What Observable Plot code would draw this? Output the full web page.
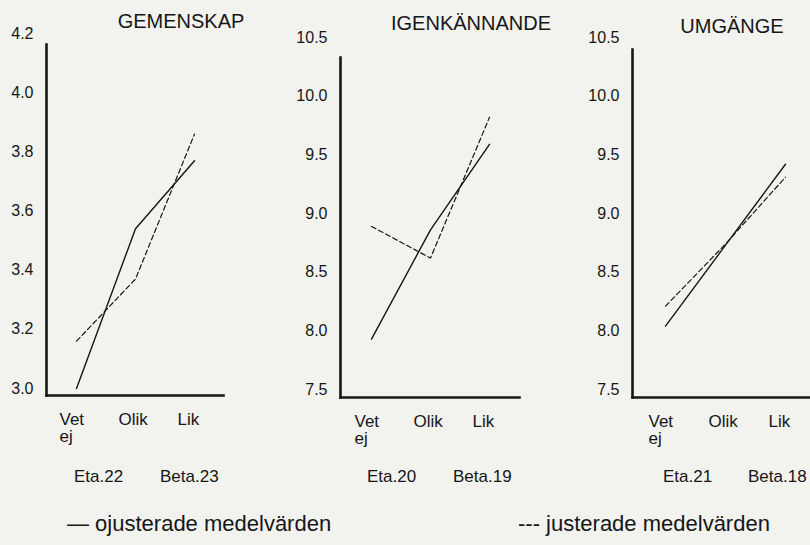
<!DOCTYPE html>
<html>
<head>
<meta charset="utf-8">
<script src="https://cdn.jsdelivr.net/npm/d3@7"></script>
<script src="https://cdn.jsdelivr.net/npm/@observablehq/plot@0.6"></script>
<style>
  html, body { margin: 0; padding: 0; }
  body { width: 810px; height: 545px; overflow: hidden; position: relative; background: #f2f2ef; font-family: "Liberation Sans", Arial, Helvetica, sans-serif; color: #161616; }
  .abs { position: absolute; white-space: nowrap; line-height: 1; }
  .title { font-size: 20px; transform: translateX(-50%); }
  .stat { font-size: 17px; }
  .legend { font-size: 22px; }
</style>
</head>
<body>
<script>
// ---- data ----
const categories = ["Vet ej", "Olik", "Lik"];
const categoryTickLabels = ["Vet\nej", "Olik", "Lik"];
const panelTitles = ["GEMENSKAP", "IGENKÄNNANDE", "UMGÄNGE"];
const etaLabels = ["Eta.22", "Eta.20", "Eta.21"];
const betaLabels = ["Beta.23", "Beta.19", "Beta.18"];

const gemenskapTicks = [3.0, 3.2, 3.4, 3.6, 3.8, 4.0, 4.2];
const igenkannandeTicks = [7.5, 8.0, 8.5, 9.0, 9.5, 10.0, 10.5];
const umgangeTicks = [7.5, 8.0, 8.5, 9.0, 9.5, 10.0, 10.5];

// unadjusted (ojusterade) and adjusted (justerade) means: Vet ej, Olik, Lik
const gemenskapUnadjusted = [3.00, 3.54, 3.77];
const gemenskapAdjusted = [3.16, 3.37, 3.86];
const igenkannandeUnadjusted = [7.93, 8.86, 9.59];
const igenkannandeAdjusted = [8.89, 8.62, 9.82];
const umgangeUnadjusted = [8.04, 8.73, 9.42];
const umgangeAdjusted = [8.21, 8.74, 9.31];

const legendUnadjusted = "— ojusterade medelvärden";
const legendAdjusted = "--- justerade medelvärden";

// ---- layout ----
const ink = "#161616";
const font = '"Liberation Sans", Arial, Helvetica, sans-serif';
const H = 450;
const panels = [
  {left: 0,   width: 223, marginTop: 33, axisY: 395, insetBottom: 7, frameTop: 11, pad: 0.5,  ticks: gemenskapTicks, un: gemenskapUnadjusted, adj: gemenskapAdjusted,
   titleX: 181, titleY: 11, etaX: 74, betaX: 160},
  {left: 294, width: 225, marginTop: 37, axisY: 397, insetBottom: 8, frameTop: 20, pad: 0.5,  ticks: igenkannandeTicks, un: igenkannandeUnadjusted, adj: igenkannandeAdjusted,
   titleX: 471, titleY: 13, etaX: 367, betaX: 453},
  {left: 586, width: 232, marginTop: 37, axisY: 397, insetBottom: 8, frameTop: 12, pad: 0.55, ticks: umgangeTicks, un: umgangeUnadjusted, adj: umgangeAdjusted,
   titleX: 732, titleY: 16, etaX: 663, betaX: 748}
];

const tickLabelOf = new Map(categories.map((c, i) => [c, categoryTickLabels[i]]));

function addText(text, cls, left, top) {
  const d = document.createElement("div");
  d.className = "abs " + cls;
  d.textContent = text;
  d.style.left = left + "px";
  d.style.top = top + "px";
  document.body.appendChild(d);
}

panels.forEach((p, k) => {
  const rowsUn = categories.map((c, i) => ({cat: c, value: p.un[i]}));
  const rowsAdj = categories.map((c, i) => ({cat: c, value: p.adj[i]}));
  const chart = Plot.plot({
    width: p.width,
    height: H,
    marginLeft: 46,
    marginRight: 0,
    marginTop: p.marginTop,
    marginBottom: H - p.axisY,
    style: {background: "transparent", fontFamily: font, color: ink, overflow: "visible"},
    x: {type: "point", domain: categories, padding: p.pad, label: null},
    y: {domain: [p.ticks[0], p.ticks[p.ticks.length - 1]], insetBottom: p.insetBottom, label: null},
    marks: [
      Plot.axisY({ticks: p.ticks, tickSize: 0, tickPadding: 13, tickFormat: d => d.toFixed(1), fontSize: 16, label: null, fill: ink}),
      Plot.axisX({tickSize: 0, tickPadding: 17, tickFormat: d => tickLabelOf.get(d), textAnchor: "start", lineAnchor: "top", lineHeight: 1.02, dx: -17, fontSize: 17, label: null, fill: ink}),
      Plot.frame({anchor: "left", insetTop: p.frameTop, stroke: ink, strokeWidth: 2.6}),
      Plot.frame({anchor: "bottom", stroke: ink, strokeWidth: 2.6}),
      Plot.line(rowsUn, {x: "cat", y: "value", stroke: ink, strokeWidth: 1.4}),
      Plot.line(rowsAdj, {x: "cat", y: "value", stroke: ink, strokeWidth: 1.2, strokeDasharray: "5,3"})
    ]
  });
  chart.style.position = "absolute";
  chart.style.left = p.left + "px";
  chart.style.top = "0px";
  document.body.appendChild(chart);

  addText(panelTitles[k], "title", p.titleX, p.titleY);
  addText(etaLabels[k], "stat", p.etaX, 468);
  addText(betaLabels[k], "stat", p.betaX, 468);
});

addText(legendUnadjusted, "legend", 67, 513);
addText(legendAdjusted, "legend", 518, 513);
</script>
</body>
</html>
